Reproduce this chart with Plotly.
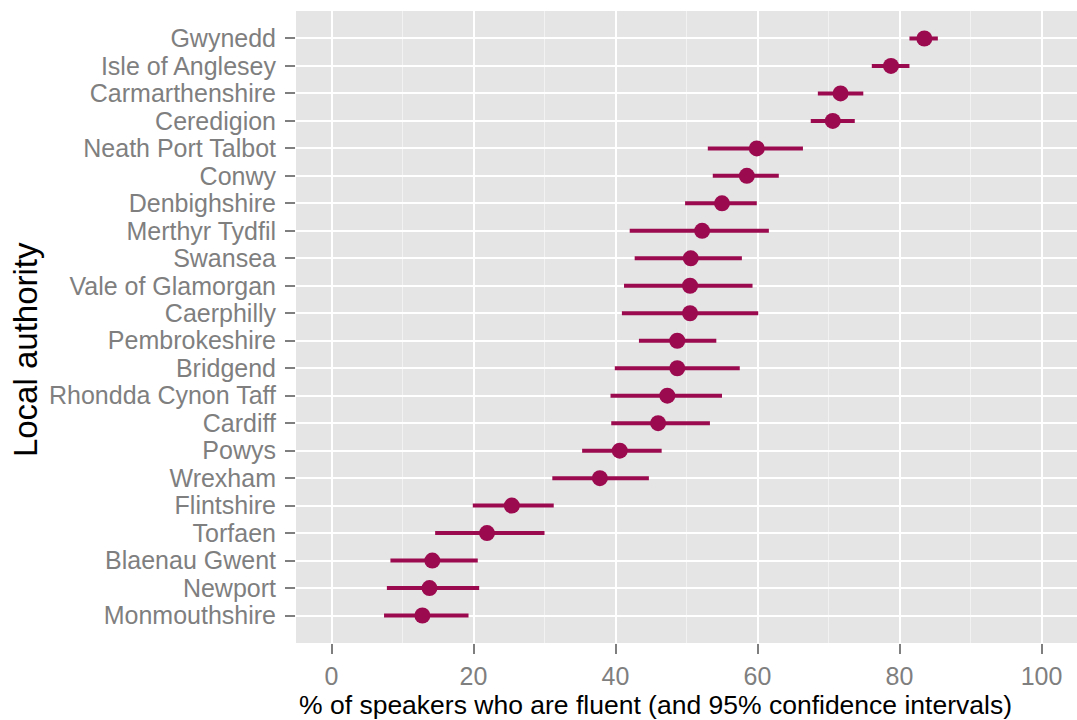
import plotly.graph_objects as go

# local authorities, top to bottom as drawn
authorities = [
    "Gwynedd", "Isle of Anglesey", "Carmarthenshire", "Ceredigion",
    "Neath Port Talbot", "Conwy", "Denbighshire", "Merthyr Tydfil",
    "Swansea", "Vale of Glamorgan", "Caerphilly", "Pembrokeshire",
    "Bridgend", "Rhondda Cynon Taff", "Cardiff", "Powys", "Wrexham",
    "Flintshire", "Torfaen", "Blaenau Gwent", "Newport", "Monmouthshire",
]
fluent_pct = [83.5, 78.8, 71.7, 70.6, 59.9, 58.5, 55.0, 52.2, 50.6, 50.5, 50.5,
              48.7, 48.7, 47.3, 46.0, 40.6, 37.8, 25.4, 21.9, 14.2, 13.8, 12.8]
ci_low = [81.4, 76.1, 68.5, 67.5, 53.0, 53.7, 49.8, 42.0, 42.7, 41.2, 40.9,
          43.3, 39.9, 39.3, 39.4, 35.3, 31.1, 19.9, 14.6, 8.3, 7.8, 7.4]
ci_high = [85.4, 81.4, 74.9, 73.7, 66.4, 63.0, 59.9, 61.6, 57.8, 59.3, 60.1,
           54.2, 57.5, 55.0, 53.3, 46.5, 44.7, 31.3, 30.0, 20.6, 20.8, 19.3]
x_ticks = [0, 20, 40, 60, 80, 100]
x_minor = [10, 30, 50, 70, 90]

colour = "#9B0A4E"
grey_text = "#7F7F7F"
font_name = "Liberation Sans, Arial"

# bottom row first so Gwynedd ends up on top
cats = authorities[::-1]
vals = fluent_pct[::-1]
lo = ci_low[::-1]
hi = ci_high[::-1]

fig = go.Figure()

# confidence intervals as horizontal segments
seg_x, seg_y = [], []
for c, a, b in zip(cats, lo, hi):
    seg_x += [a, b, None]
    seg_y += [c, c, None]
fig.add_trace(go.Scatter(x=seg_x, y=seg_y, mode="lines",
                         line=dict(color=colour, width=4),
                         hoverinfo="skip", showlegend=False))

fig.add_trace(go.Scatter(x=vals, y=cats, mode="markers",
                         marker=dict(color=colour, size=16),
                         showlegend=False))

fig.update_xaxes(
    range=[-5, 105], tickmode="array", tickvals=x_ticks,
    showgrid=True, gridcolor="white", gridwidth=2,
    minor=dict(tickvals=x_minor, showgrid=True,
               gridcolor="#F2F2F2", gridwidth=1, ticks=""),
    ticks="outside", ticklen=10, tickwidth=2, tickcolor=grey_text,
    ticklabelstandoff=1,
    tickfont=dict(family=font_name, size=25, color=grey_text),
    zeroline=False, showline=False, automargin=False,
)
fig.update_yaxes(
    categoryorder="array", categoryarray=cats, range=[-1, 22],
    tickmode="array", tickvals=cats, ticktext=cats,
    showgrid=True, gridcolor="white", gridwidth=2,
    ticks="outside", ticklen=10, tickwidth=2, tickcolor=grey_text,
    ticklabelstandoff=4,
    tickfont=dict(family=font_name, size=25, color=grey_text),
    zeroline=False, showline=False, automargin=False,
)

fig.add_annotation(text="% of speakers who are fluent (and 95% confidence intervals)",
                   xref="paper", yref="paper", x=0.46, y=-0.098,
                   showarrow=False, xanchor="center", yanchor="middle",
                   font=dict(family=font_name, size=26.5, color="black"))
fig.add_annotation(text="Local authority", textangle=-90,
                   xref="paper", yref="paper", x=-0.347, y=0.465,
                   showarrow=False, xanchor="center", yanchor="middle",
                   font=dict(family=font_name, size=33, color="black"))

fig.update_layout(
    width=1077, height=720,
    margin=dict(l=296, r=0, t=11, b=77),
    plot_bgcolor="#E5E5E5", paper_bgcolor="white",
)

# drop the default page margin so the figure fills the window exactly
fig.write_html("out.html", config={"displayModeBar": False},
               post_script="document.body.style.margin='0';document.body.style.overflow='hidden';")
